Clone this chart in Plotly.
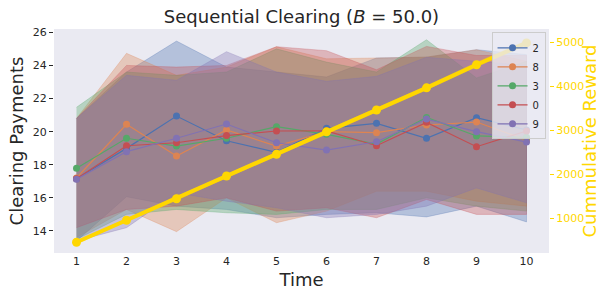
import plotly.graph_objects as go

time = [1, 2, 3, 4, 5, 6, 7, 8, 9, 10]
labels = ["2", "8", "3", "0", "9"]
colors = ["#4C72B0", "#DD8452", "#55A868", "#C44E52", "#8172B3"]

mean_2 = [17.15, 18.99, 20.94, 19.45, 18.75, 20.20, 20.50, 19.60, 20.84, 20.10]
mean_8 = [17.20, 20.44, 18.53, 20.10, 19.13, 20.00, 19.94, 20.40, 20.58, 19.50]
mean_3 = [17.79, 19.60, 19.13, 19.60, 20.30, 19.84, 19.25, 20.86, 19.74, 19.66]
mean_0 = [17.15, 19.15, 19.33, 19.76, 20.04, 20.05, 19.15, 20.56, 19.09, 20.04]
mean_9 = [17.12, 18.79, 19.60, 20.46, 19.33, 18.89, 19.39, 20.76, 20.00, 19.37]

upper_2 = [20.8, 23.6, 25.47, 23.9, 23.6, 23.3, 24.45, 24.5, 24.95, 24.65]
upper_8 = [20.8, 24.73, 23.4, 23.9, 25.13, 24.4, 24.45, 24.5, 24.95, 24.25]
upper_3 = [21.47, 23.6, 23.4, 23.6, 25.0, 24.2, 23.6, 25.55, 23.24, 24.25]
upper_0 = [20.8, 24.0, 23.9, 24.0, 25.13, 24.89, 23.74, 25.15, 24.6, 24.6]
upper_9 = [20.8, 23.4, 23.1, 24.83, 23.6, 23.04, 23.34, 24.49, 24.25, 24.0]

lower_2 = [13.4, 16.07, 15.5, 15.3, 14.8, 15.0, 15.1, 14.85, 15.5, 14.55]
lower_8 = [13.6, 15.3, 13.96, 16.0, 14.5, 15.2, 16.4, 16.4, 15.8, 15.5]
lower_3 = [13.5, 15.0, 15.3, 15.1, 15.0, 15.3, 15.3, 16.0, 15.5, 15.2]
lower_0 = [14.2, 15.3, 15.5, 16.0, 15.2, 15.4, 14.8, 15.9, 15.0, 15.0]
lower_9 = [13.4, 14.2, 16.3, 15.8, 15.4, 14.8, 15.0, 15.5, 16.6, 15.7]

reward = [455, 955, 1445, 1960, 2455, 2965, 3461, 3965, 4490, 4986]
reward_std = [40, 40, 45, 45, 50, 50, 55, 55, 60, 60]

means = [mean_2, mean_8, mean_3, mean_0, mean_9]
uppers = [upper_2, upper_8, upper_3, upper_0, upper_9]
lowers = [lower_2, lower_8, lower_3, lower_0, lower_9]


def rgba(hexc, a):
    h = hexc.lstrip("#")
    r, g, b = int(h[0:2], 16), int(h[2:4], 16), int(h[4:6], 16)
    return f"rgba({r},{g},{b},{a})"


fig = go.Figure()

for lab, col, up, lo in zip(labels, colors, uppers, lowers):
    fig.add_trace(go.Scatter(
        x=time + time[::-1], y=up + lo[::-1], fill="toself",
        fillcolor=rgba(col, 0.34), line=dict(color=rgba(col, 0.35), width=0.8),
        mode="lines", showlegend=False, hoverinfo="skip", yaxis="y"))

for lab, col, m in zip(labels, colors, means):
    fig.add_trace(go.Scatter(
        x=time, y=m, mode="lines+markers", name=lab,
        line=dict(color=col, width=1.2), marker=dict(color=col, size=7),
        yaxis="y"))

r_up = [r + s for r, s in zip(reward, reward_std)]
r_lo = [r - s for r, s in zip(reward, reward_std)]
fig.add_trace(go.Scatter(
    x=time + time[::-1], y=r_up + r_lo[::-1], fill="toself",
    fillcolor="rgba(255,215,0,0.35)", line=dict(width=0),
    mode="lines", showlegend=False, hoverinfo="skip", yaxis="y2"))
fig.add_trace(go.Scatter(
    x=time, y=reward, mode="lines+markers", name="reward",
    line=dict(color="#FFD700", width=4), marker=dict(color="#FFD700", size=9),
    showlegend=False, yaxis="y2"))

fig.update_layout(
    width=600, height=295,
    margin=dict(l=54, r=51, t=29, b=42, autoexpand=False),
    paper_bgcolor="white", plot_bgcolor="#EAEAF2",
    font=dict(family="DejaVu Sans", color="#262626", size=11),
    title=dict(text="Sequential Clearing (<i>B</i> = 50.0)", x=0.5025, xanchor="center",
               y=0.942, yanchor="middle", font=dict(size=18, color="#262626")),
    xaxis=dict(range=[0.55, 10.45], tickvals=time, ticktext=[str(t) for t in time],
               showgrid=False, zeroline=False, ticks="", showline=False, automargin=False,
               title=dict(text="Time", font=dict(size=18), standoff=6)),
    yaxis=dict(range=[12.67, 26.2], tickvals=[14, 16, 18, 20, 22, 24, 26],
               showgrid=False, zeroline=False, ticks="outside", ticklen=4,
               tickcolor="#262626", tickwidth=1, automargin=False,
               title=dict(text="Clearing Payments", font=dict(size=18), standoff=4)),
    yaxis2=dict(range=[211, 5302], tickvals=[1000, 2000, 3000, 4000, 5000],
                overlaying="y", side="right", showgrid=False, zeroline=False,
                ticks="outside", ticklen=4, tickcolor="#FFD700", tickwidth=1,
                tickfont=dict(color="#FFD700", size=11), automargin=False,
                title=dict(text="Cummulative Reward", font=dict(size=18, color="#FFD700"),
                           standoff=4)),
    legend=dict(x=0.993, y=0.985, xanchor="right", yanchor="top",
                bgcolor="rgba(234,234,242,0.8)", bordercolor="#CCCCCC", borderwidth=1,
                font=dict(size=10), itemwidth=30, tracegroupgap=0,
                traceorder="normal"),
    showlegend=True,
)

fig.write_html("out.html", config={"displayModeBar": False},
               post_script="document.body.style.margin='0';")
